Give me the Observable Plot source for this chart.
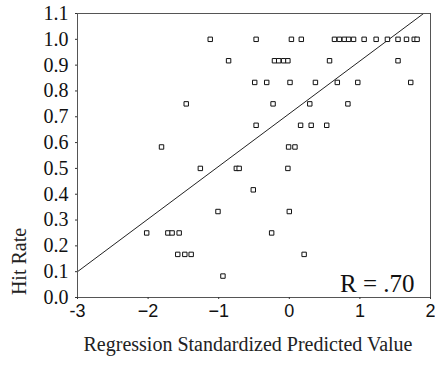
<!DOCTYPE html>
<html>
<head>
<meta charset="utf-8">
<script src="https://cdn.jsdelivr.net/npm/d3@7"></script>
<script src="https://cdn.jsdelivr.net/npm/@observablehq/plot@0.6"></script>
<style>
  html, body { margin: 0; padding: 0; background: #fff; }
  #chart svg { display: block; }
</style>
</head>
<body>
<div id="chart"></div>
<script>
// Hit rate levels (rows of points) and the standardized predicted values on each row
const hitRates = [1.0, 0.917, 0.833, 0.75, 0.667, 0.583, 0.5, 0.417, 0.333, 0.25, 0.167, 0.083];
const predictedByRow = [
  [-1.12, -0.47, 0.03, 0.17, 0.64, 0.71, 0.78, 0.84, 0.91, 1.06, 1.23, 1.39, 1.54, 1.66, 1.77, 1.81],
  [-0.86, -0.21, -0.15, -0.08, -0.02, 0.57, 1.54],
  [-0.49, -0.32, 0.01, 0.37, 0.68, 0.97, 1.72],
  [-1.46, -0.23, 0.29, 0.83],
  [-0.47, 0.16, 0.31, 0.53],
  [-1.81, -0.01, 0.08],
  [-1.26, -0.75, -0.71, -0.02],
  [-0.51],
  [-1.01, 0.0],
  [-2.02, -1.72, -1.66, -1.56, -0.25],
  [-1.58, -1.48, -1.39, 0.21],
  [-0.94]
];
// Fit line
const fitIntercept = 0.712;
const fitSlope = 0.204;
const xDomain = [-3, 2];
const yDomain = [0, 1.1];
const xTicks = [-3, -2, -1, 0, 1, 2];
const yTicks = [0, 0.1, 0.2, 0.3, 0.4, 0.5, 0.6, 0.7, 0.8, 0.9, 1.0, 1.1];
const rLabel = "R = .70";
const xLabel = "Regression Standardized Predicted Value";
const yLabel = "Hit Rate";

const points = [];
hitRates.forEach((h, i) => predictedByRow[i].forEach(x => points.push({x, y: h})));
const fitLine = xDomain.map(x => ({x, y: fitIntercept + fitSlope * x}));

const serif = "'Liberation Serif', 'Times New Roman', serif";
const sans = "'Liberation Sans', Arial, sans-serif";

const chart = Plot.plot({
  width: 435,
  height: 365,
  marginLeft: 77,
  marginRight: 5,
  marginTop: 13,
  marginBottom: 68,
  x: {domain: xDomain},
  y: {domain: yDomain},
  style: {background: "#fff"},
  marks: [
    Plot.line(fitLine, {x: "x", y: "y", stroke: "#222", strokeWidth: 1, clip: true}),
    Plot.dot(points, {x: "x", y: "y", symbol: "square", r: 2.5, stroke: "#111", fill: "#fff", strokeWidth: 1}),
    Plot.frame({stroke: "#555", strokeWidth: 1}),
    Plot.axisY(yTicks, {
      tickSize: 2, tickPadding: 7, stroke: "#333",
      tickFormat: d => d.toFixed(1),
      fontSize: 20, fontFamily: serif, fill: "#111", label: null
    }),
    Plot.axisX(xTicks, {
      tickSize: 2, tickPadding: 5, stroke: "#333",
      tickFormat: d => d === -3 ? "-3" : (d < 0 ? "\u2212" + (-d) : String(d)),
      fontSize: 18, fontFamily: sans, fill: "#111", label: null
    }),
    Plot.text([rLabel], {
      text: d => d, frameAnchor: "bottom-right", textAnchor: "end", lineAnchor: "bottom",
      dx: -16, dy: -6, fontSize: 25, fontFamily: serif, fill: "#111"
    }),
    Plot.text([xLabel], {
      text: d => d, frameAnchor: "bottom", textAnchor: "middle", lineAnchor: "middle",
      dx: -6, dy: 47, fontSize: 20, fontFamily: serif, fill: "#222"
    }),
    Plot.text([yLabel], {
      text: d => d, frameAnchor: "bottom-left", textAnchor: "middle", lineAnchor: "middle",
      dx: -58, dy: -36, rotate: -90, fontSize: 20, fontFamily: serif, fill: "#222"
    })
  ]
});
document.getElementById("chart").appendChild(chart);
</script>
</body>
</html>
